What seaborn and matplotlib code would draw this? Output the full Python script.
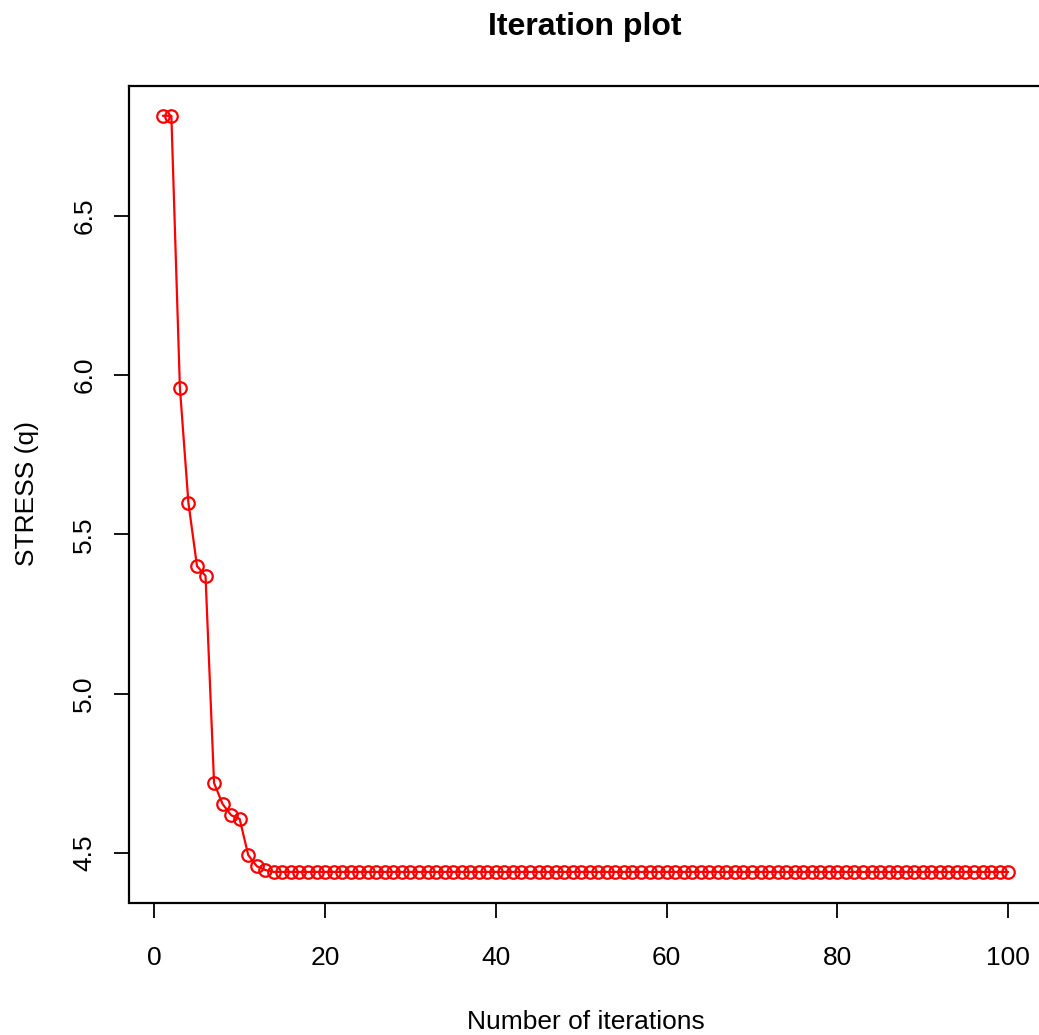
import numpy as np
import pandas as pd
import matplotlib
matplotlib.use("Agg")
import matplotlib.pyplot as plt
import seaborn as sns

iterations = list(range(1, 101))
stress_head = [6.814, 6.814, 5.96, 5.599, 5.401, 5.37, 4.72, 4.654, 4.619, 4.607,
               4.494, 4.459, 4.447]
stress_tail = [4.441] * (100 - len(stress_head))
stress = stress_head + stress_tail

df = pd.DataFrame({"Number of iterations": iterations, "STRESS (q)": stress})

sns.set_style("white")
plt.rcParams['font.family'] = ['Liberation Sans', 'DejaVu Sans']
plt.rcParams['text.color'] = 'black'
plt.rcParams['axes.labelcolor'] = 'black'
plt.rcParams['xtick.color'] = 'black'
plt.rcParams['ytick.color'] = 'black'

fig = plt.figure(figsize=(10.39, 10.35), dpi=100)
ax = fig.add_axes([129 / 1039, 1 - 902.5 / 1035, 913 / 1039, (902.5 - 85.5) / 1035])

sns.lineplot(data=df, x="Number of iterations", y="STRESS (q)", ax=ax,
             color="red", linewidth=1.6, marker="o", markersize=9,
             markerfacecolor="none", markeredgecolor="red", markeredgewidth=1.6)

ax.set_xlim(-2.96, 103.96)
ax.set_ylim(4.345, 6.909)
ax.set_xticks([0, 20, 40, 60, 80, 100])
ax.set_yticks([4.5, 5.0, 5.5, 6.0, 6.5])
ax.set_yticklabels(["4.5", "5.0", "5.5", "6.0", "6.5"], rotation=90, va="center")

for s in ax.spines.values():
    s.set_visible(True)
    s.set_color("black")
    s.set_linewidth(1.6)

ax.tick_params(axis="both", direction="out", length=11, width=1.3, color="black",
               labelcolor="black", labelsize=19, bottom=True, left=True)
ax.tick_params(axis="x", pad=20)
ax.tick_params(axis="y", pad=12.5)

ax.set_xlabel("Number of iterations", fontsize=19, labelpad=29, color="black")
ax.set_ylabel("STRESS (q)", fontsize=19, labelpad=24, color="black")
fig.suptitle("Iteration plot", fontsize=23, fontweight="bold", x=585 / 1039,
             y=1 - 12 / 1035, va="top", color="black")

fig.savefig("out.png", dpi=100)
